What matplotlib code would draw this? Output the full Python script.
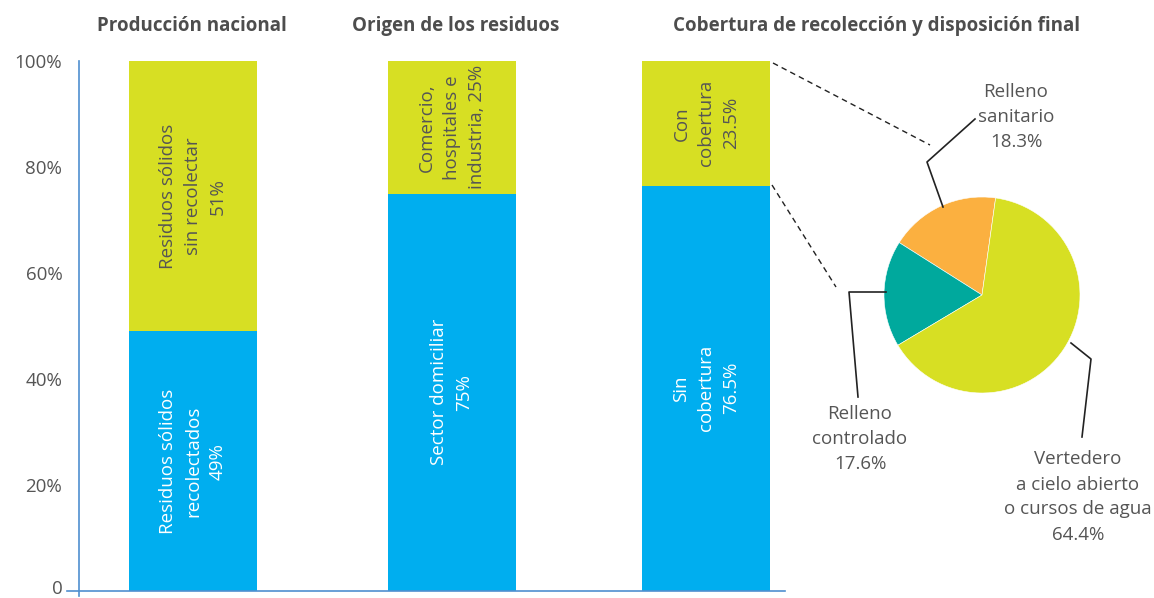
import matplotlib
matplotlib.use("Agg")
import matplotlib.pyplot as plt
import matplotlib.transforms as mtrans

plt.rcParams['font.family'] = ['Open Sans', 'DejaVu Sans']

W, H = 1154, 598

# data
titles = ['Producción nacional', 'Origen de los residuos',
          'Cobertura de recolección y disposición final']
bottom_vals = [49, 75, 76.5]
top_vals = [51, 25, 23.5]
bottom_labels = ['Residuos sólidos\nrecolectados\n49%',
                 'Sector domiciliar\n75%',
                 'Sin\ncobertura\n76.5%']
top_labels = ['Residuos sólidos\nsin recolectar\n51%',
              'Comercio,\nhospitales e\nindustria, 25%',
              'Con\ncobertura\n23.5%']
yticks = [0, 20, 40, 60, 80, 100]
ytick_labels = ['0', '20%', '40%', '60%', '80%', '100%']

pie_vals = [18.3, 17.6, 64.4]
pie_labels = ['Relleno\nsanitario\n18.3%',
              'Relleno\ncontrolado\n17.6%',
              'Vertedero\na cielo abierto\no cursos de agua\n64.4%']

BLUE = '#00AEEF'
LIME = '#D7DF23'
ORANGE = '#FBB040'
TEAL = '#00A99D'
GREY = '#555555'
AXIS = '#4F8FCF'

fig = plt.figure(figsize=(W / 100, H / 100), dpi=100)

def px_box(x0, y0, x1, y1):
    return [x0 / W, 1 - y1 / H, (x1 - x0) / W, (y1 - y0) / H]

# bars
ax = fig.add_axes(px_box(67, 61, 785, 591))
centers = [193, 452, 706.5]
ax.bar(centers, bottom_vals, width=128, color=BLUE, zorder=2)
ax.bar(centers, top_vals, width=128, bottom=bottom_vals, color=LIME, zorder=2)
ax.set_xlim(67, 785)
ax.set_ylim(0, 100)
ax.set_yticks(yticks)
ax.set_yticklabels(ytick_labels)
ax.tick_params(axis='y', length=0, pad=12, labelsize=13.5, labelcolor=GREY)
ax.set_xticks([])
for s in ['top', 'right']:
    ax.spines[s].set_visible(False)
ax.spines['left'].set_position(('data', 79))
ax.spines['left'].set_color(AXIS)
ax.spines['bottom'].set_color(AXIS)
ax.spines['left'].set_linewidth(1.2)
ax.spines['bottom'].set_linewidth(1.2)
ax.spines['left'].set_bounds(-1, 100)
# nudge the "0" label up so it is not clipped
lab0 = ax.get_yticklabels()[0]
lab0.set_transform(lab0.get_transform() +
                   mtrans.ScaledTranslation(0, 4 / 100, fig.dpi_scale_trans))

for c, b, t, bl, tl in zip(centers, bottom_vals, top_vals, bottom_labels, top_labels):
    ax.text(c, b / 2, bl, rotation=90, ha='center', va='center',
            color='white', fontsize=13.5, linespacing=1.5, zorder=3)
    ax.text(c, b + t / 2, tl, rotation=90, ha='center', va='center',
            color=GREY, fontsize=13.5, linespacing=1.5, zorder=3)

# pie
pax = fig.add_axes(px_box(884, 197, 1080, 393))
pax.pie(pie_vals, colors=[ORANGE, TEAL, LIME], startangle=82,
        counterclock=True, radius=1,
        wedgeprops=dict(linewidth=0.4, edgecolor='white'))
pax.set_xlim(-1, 1)
pax.set_ylim(-1, 1)
pax.set_aspect('equal')
pax.axis('off')

# overlay for titles and connectors (pixel coords)
ov = fig.add_axes([0, 0, 1, 1], zorder=5)
ov.set_xlim(0, W)
ov.set_ylim(H, 0)
ov.axis('off')
ov.patch.set_alpha(0)

title_x = [192, 456, 877]
for tx, t in zip(title_x, titles):
    ov.text(tx, 26, t, ha='center', va='center', fontsize=13.5,
            fontweight='bold', color='#4D4D4D')

ov.plot([773, 930], [63, 145], ls=(0, (4, 3)), color='#222222', lw=1)
ov.plot([772, 836], [185, 287], ls=(0, (4, 3)), color='#222222', lw=1)

ov.plot([943, 927, 975], [207, 162, 119], color='#222222', lw=1.2)
ov.plot([886, 849, 858], [292, 292, 397], color='#222222', lw=1.2)
ov.plot([1071, 1091, 1082], [343, 359, 437], color='#222222', lw=1.2)

ov.text(1016, 117, pie_labels[0], ha='center', va='center', fontsize=13.5,
        color=GREY, linespacing=1.5)
ov.text(860, 439, pie_labels[1], ha='center', va='center', fontsize=13.5,
        color=GREY, linespacing=1.5)
ov.text(1078, 497, pie_labels[2], ha='center', va='center', fontsize=13.5,
        color=GREY, linespacing=1.5)

fig.savefig('out.png', dpi=100)
